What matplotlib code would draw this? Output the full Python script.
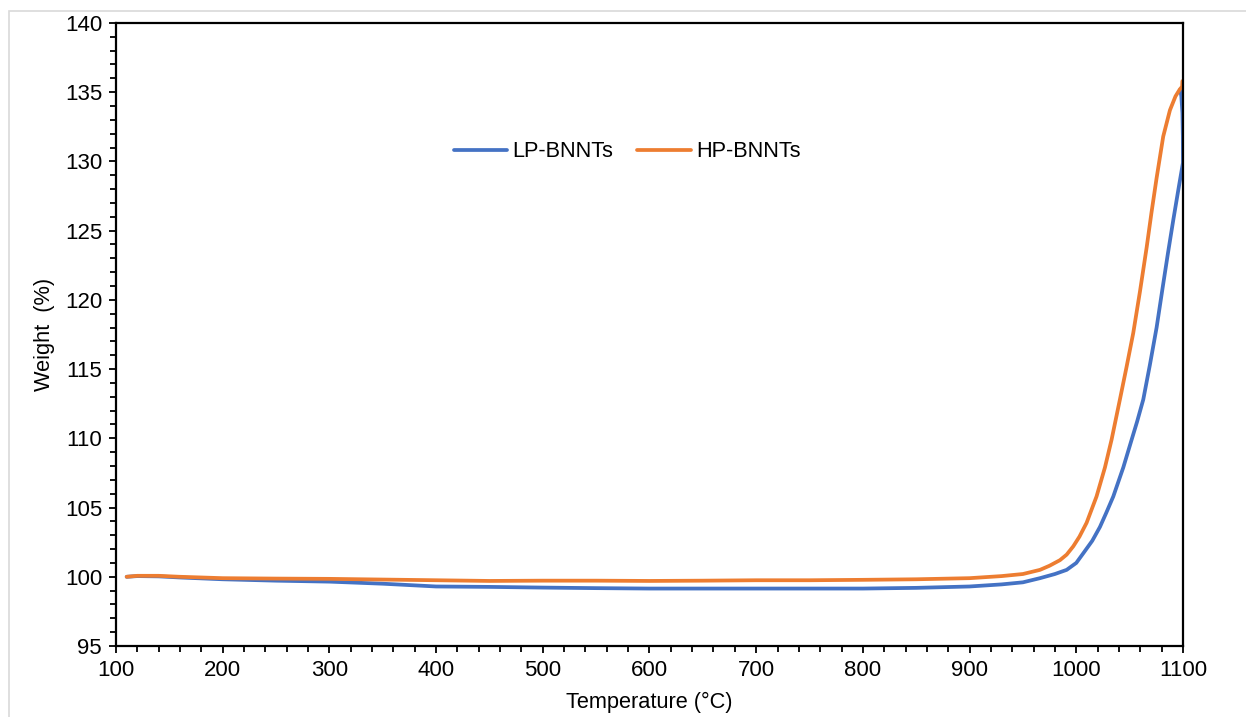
import matplotlib
matplotlib.use("Agg")
import matplotlib.pyplot as plt
from matplotlib.patches import Rectangle
from matplotlib.ticker import MultipleLocator

plt.rcParams['font.family'] = ['Liberation Sans', 'DejaVu Sans']

# LP-BNNTs (blue): temperature (°C) and weight (%)
lp_temp = [110, 120, 140, 160, 200, 250, 300, 350, 380, 400, 450, 500, 550, 600,
           650, 700, 750, 800, 850, 900, 930, 950, 966, 980, 991, 1000, 1006.6,
           1015, 1022.2, 1028, 1034.7, 1044.1, 1051.9, 1057, 1062.8, 1069, 1075.3,
           1081, 1086, 1091, 1096, 1100, 1099.9, 1099.5, 1098.5, 1097.5]
lp_weight = [100.0, 100.05, 100.03, 99.95, 99.82, 99.72, 99.65, 99.5, 99.38, 99.3,
             99.27, 99.22, 99.18, 99.15, 99.15, 99.15, 99.15, 99.15, 99.2, 99.3,
             99.45, 99.6, 99.9, 100.2, 100.5, 101.0, 101.7, 102.6, 103.6, 104.6,
             105.8, 107.9, 109.9, 111.2, 112.8, 115.3, 118.0, 120.9, 123.4, 125.8,
             128.1, 129.9, 131.8, 133.5, 134.7, 135.2]

# HP-BNNTs (orange)
hp_temp = [110, 120, 140, 160, 200, 250, 300, 350, 400, 450, 500, 550, 600, 650,
           700, 750, 800, 850, 900, 930, 950, 966, 975, 984.7, 991, 997.2, 1003,
           1009.7, 1019, 1026.9, 1033.1, 1040.9, 1047, 1053.4, 1059.7, 1066,
           1070.5, 1075.3, 1081.5, 1087.8, 1093, 1097, 1099.2, 1099.5]
hp_weight = [100.0, 100.07, 100.07, 100.0, 99.9, 99.87, 99.85, 99.8, 99.75, 99.7,
             99.72, 99.72, 99.7, 99.72, 99.75, 99.75, 99.78, 99.82, 99.9, 100.05,
             100.2, 100.5, 100.8, 101.2, 101.6, 102.2, 102.9, 103.9, 105.8, 107.9,
             109.9, 112.8, 115.1, 117.6, 120.6, 123.8, 126.3, 128.8, 131.8, 133.7,
             134.7, 135.2, 135.4, 135.8]

fig = plt.figure(figsize=(12.46, 7.17), dpi=100)
ax = fig.add_axes([0.0931, 0.099, 0.8563, 0.869])

# light grey chart-area border
fig.patches.append(Rectangle((9 / 1246, -0.05), 1.1, 1 - 11 / 717 + 0.05,
                             transform=fig.transFigure, fill=False,
                             edgecolor='#d9d9d9', linewidth=1.2))

ax.plot(lp_temp, lp_weight, color='#4472C4', lw=2.7, label='LP-BNNTs',
        solid_capstyle='round', solid_joinstyle='round')
ax.plot(hp_temp, hp_weight, color='#ED7D31', lw=2.7, label='HP-BNNTs',
        solid_capstyle='round', solid_joinstyle='round')

ax.set_xlim(100, 1100)
ax.set_ylim(95, 140)
ax.xaxis.set_major_locator(MultipleLocator(100))
ax.xaxis.set_minor_locator(MultipleLocator(20))
ax.yaxis.set_major_locator(MultipleLocator(5))
ax.yaxis.set_minor_locator(MultipleLocator(1))

for s in ax.spines.values():
    s.set_linewidth(1.6)
    s.set_color('black')

ax.tick_params(which='major', direction='out', length=5, width=1.3,
               labelsize=16, colors='black', pad=5)
ax.tick_params(which='minor', direction='out', length=4, width=1.3)

ax.set_xlabel('Temperature (°C)', fontsize=15.7, labelpad=8)
ax.set_ylabel('Weight  (%)', fontsize=15.7, labelpad=7)

ax.legend(loc='center', bbox_to_anchor=(0.479, 0.793), ncol=2, frameon=False,
          fontsize=15.7, handlelength=2.45, handletextpad=0.25, columnspacing=1.1)

fig.savefig('out.png', dpi=100)
